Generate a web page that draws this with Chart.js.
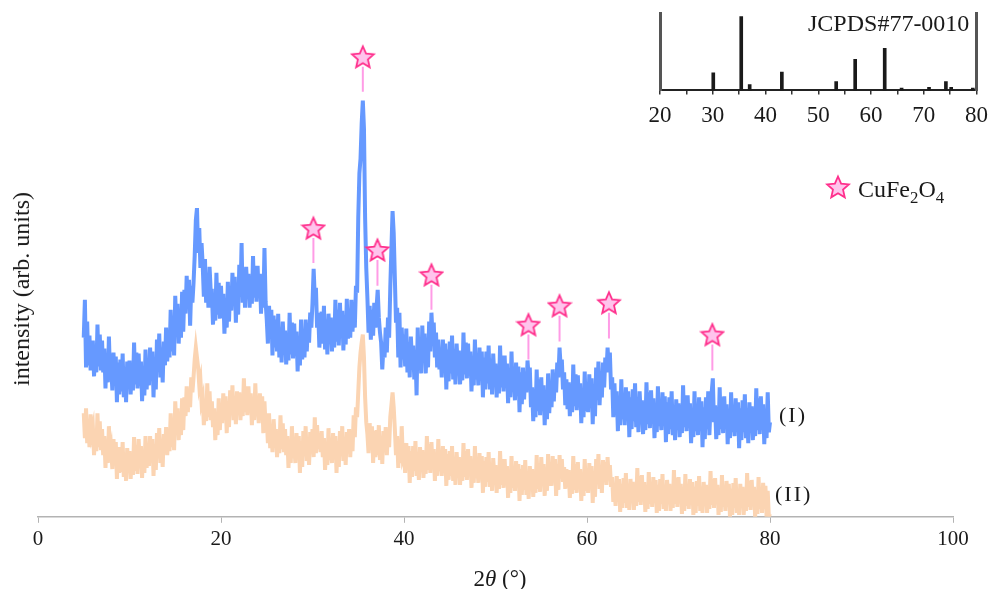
<!DOCTYPE html>
<html>
<head>
<meta charset="utf-8">
<script src="https://cdn.jsdelivr.net/npm/chart.js@4.4.1/dist/chart.umd.min.js"></script>
<style>
  html, body { margin: 0; padding: 0; background: #fff; }
  #wrap { position: relative; width: 996px; height: 589px; font-family: "Liberation Serif", "DejaVu Serif", serif; color: #1a1a1a; }
  #main { position: absolute; left: 0; top: 0; }
  #inset { position: absolute; left: 640px; top: 0; }
  .lbl { position: absolute; line-height: 1; white-space: nowrap; }
  .lbl sub { font-size: 70%; vertical-align: -0.35em; line-height: 0; }
  .ytitle { left: 21px; top: 289px; font-size: 24px; transform: translate(-50%, -50%) rotate(-90deg); }
  .xtitle { left: 500px; top: 578px; font-size: 23px; transform: translate(-50%, -50%); }
</style>
</head>
<body>
<div id="wrap">
  <canvas id="main" width="996" height="589"></canvas>
  <canvas id="inset" width="356" height="145"></canvas>
  <div class="lbl" style="left:808px; top:11px; font-size:24px;">JCPDS#77-0010</div>
  <div class="lbl" id="legendStar" style="left:825px; top:174px;"></div>
  <div class="lbl" style="left:858px; top:177px; font-size:24px;">CuFe<sub>2</sub>O<sub>4</sub></div>
  <div class="lbl" style="left:779px; top:404px; font-size:22px; letter-spacing:2px;">(I)</div>
  <div class="lbl" style="left:775px; top:483px; font-size:22px; letter-spacing:2px;">(II)</div>
  <div class="lbl ytitle">intensity (arb. units)</div>
  <div class="lbl xtitle">2<i>θ</i> (°)</div>
</div>
<script>
const SERIF = '"Liberation Serif", "DejaVu Serif", serif';

// 2θ grid of the scan: 5° to 80° every 0.125°
const angleStart = 5;
const angleStep = 0.125;

// curve (I), one row = one degree (8 samples)
const seriesI = [
  180, 218, 150, 196, 152, 182, 147, 175,   // 5
  175, 141, 169, 145, 193, 151, 183, 147,
  177, 145, 169, 129, 163, 135, 181, 141,
  151, 127, 165, 133, 161, 115, 155, 123,
  158, 126, 164, 120, 150, 115, 156, 132,
  157, 123, 151, 127, 175, 133, 165, 129,   // 10
  164, 132, 156, 116, 150, 122, 168, 128,
  156, 132, 170, 138, 166, 120, 160, 128,
  178, 146, 184, 140, 170, 135, 176, 152,
  190, 156, 184, 160, 208, 166, 198, 162,
  222, 190, 214, 174, 208, 180, 226, 186,   // 15
  228, 204, 242, 210, 238, 192, 232, 215,
  235, 262, 298, 310, 265, 290, 250, 275,
  253, 221, 259, 215, 245, 210, 251, 227,
  227, 193, 221, 197, 245, 203, 235, 199,
  232, 200, 224, 184, 218, 190, 236, 196,   // 20
  231, 207, 245, 213, 241, 195, 235, 203,
  253, 221, 275, 215, 245, 210, 251, 227,
  244, 210, 238, 214, 262, 220, 252, 216,
  252, 220, 244, 204, 238, 210, 270, 216,
  198, 174, 212, 180, 208, 162, 202, 170,   // 25
  198, 166, 204, 160, 190, 155, 196, 172,
  187, 153, 181, 157, 205, 163, 195, 159,
  194, 162, 186, 146, 180, 152, 198, 158,
  184, 160, 198, 166, 194, 175, 205, 190,
  215, 249, 220, 230, 190, 205, 170, 192,   // 30
  206, 174, 212, 168, 198, 163, 204, 180,
  200, 166, 194, 170, 218, 176, 208, 172,
  215, 183, 207, 167, 201, 173, 219, 179,
  204, 180, 218, 186, 214, 190, 232, 225,
  300, 345, 360, 395, 418, 390, 300, 250,   // 35
  220, 185, 212, 178, 208, 182, 215, 190,
  210, 228, 200, 185, 175, 148, 170, 160,
  190, 165, 200, 180, 230, 270, 307, 285,
  240, 195, 210, 160, 205, 150, 190, 158,
  183, 151, 189, 145, 175, 140, 181, 157,   // 40
  172, 138, 166, 122, 190, 148, 180, 144,
  192, 160, 184, 144, 178, 150, 196, 166,
  205, 180, 195, 160, 185, 150, 178, 148,
  164, 140, 178, 146, 174, 128, 168, 136,
  176, 144, 182, 138, 168, 133, 174, 150,   // 45
  167, 133, 161, 137, 185, 143, 175, 139,
  174, 142, 166, 126, 160, 132, 178, 138,
  156, 132, 170, 138, 166, 120, 160, 128,
  166, 134, 172, 128, 158, 123, 164, 140,
  154, 120, 148, 124, 172, 130, 162, 126,   // 50
  162, 130, 154, 114, 148, 120, 166, 126,
  141, 117, 155, 123, 151, 105, 145, 113,
  150, 118, 145, 125, 157, 140, 150, 110,
  130,  96, 124, 100, 148, 106, 138, 102,
  140, 108, 132,  92, 126,  98, 144, 104,   // 55
  134, 110, 148, 116, 144, 125, 155, 140,
  170, 150, 158, 128, 145, 112, 138, 108,
  135, 101, 129, 105, 153, 111, 143, 107,
  142, 110, 134,  94, 128, 100, 146, 106,
  129, 105, 143, 111, 139,  93, 133, 101,   // 60
  150, 118, 156, 112, 142, 120, 155, 130,
  160, 145, 170, 150, 165, 128, 140, 100,
  134, 102, 126,  86, 120,  92, 138,  98,
  116,  92, 130,  98, 126,  80, 120,  88,
  128,  96, 134,  90, 120,  85, 126, 102,   // 65
  117,  83, 111,  87, 135,  93, 125,  89,
  127,  95, 119,  79, 113,  85, 131,  91,
  111,  87, 125,  93, 121,  75, 115,  83,
  120,  88, 126,  82, 112,  77, 118,  94,
  114,  80, 108,  84, 132,  90, 122,  86,   // 70
  122,  90, 114,  74, 108,  80, 126,  86,
  106,  82, 120,  88, 116,  70, 110,  78,
  120,  88, 126,  82, 112, 125, 139,  95,
  112,  78, 106,  82, 130,  88, 120,  84,
  121,  89, 113,  73, 107,  79, 125,  85,   // 75
  105,  81, 119,  87, 115,  69, 109,  77,
  117,  85, 123,  79, 109,  74, 115,  91,
  111,  77, 105,  81, 129,  87, 119,  83,
  121,  89, 113,  73, 107,  79, 125,  85,
   95                                       // 80
];

// curve (II)
const seriesII = [
  104,  79, 109,  74,  98,  70, 103,  84,   // 5
   90,  62,  85,  66, 104,  70,  96,  67,
   88,  62,  81,  49,  76,  54,  91,  59,
   67,  48,  78,  52,  75,  38,  70,  44,
   70,  45,  75,  40,  64,  36,  69,  50,
   66,  38,  61,  42,  80,  46,  72,  43,   // 10
   78,  52,  71,  39,  66,  44,  81,  49,
   70,  51,  81,  55,  78,  41,  73,  47,
   84,  59,  89,  54,  78,  50,  83,  64,
   90,  62,  85,  66, 104,  70,  96,  67,
  116,  90, 109,  77, 104,  82, 119,  87,   // 15
  120, 101, 131, 105, 128, 110, 140, 125,
  140, 158, 170, 160, 150, 132, 138, 115,
  120,  92, 115,  96, 134, 100, 126,  97,
  116,  90, 109,  77, 104,  82, 119,  87,
  113,  94, 124,  98, 121,  84, 116,  90,   // 20
  127, 102, 132,  97, 121,  93, 126, 107,
  125,  97, 120, 101, 139, 105, 131, 102,
  131, 105, 124,  92, 119,  97, 134, 102,
  113,  94, 124,  98, 121,  84, 116,  90,
   99,  74, 104,  69,  93,  65,  98,  79,   // 25
   88,  60,  83,  64, 102,  68,  94,  65,
   88,  62,  81,  49,  76,  54,  91,  59,
   73,  54,  84,  58,  81,  44,  76,  50,
   86,  61,  91,  56,  80,  52,  85,  66,
   88,  60, 100,  64,  92,  68,  84,  65,   // 30
   86,  60,  79,  47,  74,  52,  89,  57,
   73,  54,  84,  58,  81,  44,  76,  50,
   86,  61,  91,  56,  80,  52,  85,  66,
   88,  60,  83,  66, 102,  80, 110, 100,
  125, 150, 165, 175, 183, 160, 120,  95,   // 35
   83,  64,  94,  68,  91,  54,  86,  60,
   87,  62,  92,  57,  81,  53,  86,  67,
   90,  62,  85,  70, 100, 112, 125, 110,
   88,  62,  81,  49,  76,  54,  91,  59,
   63,  44,  74,  48,  71,  34,  66,  40,   // 40
   71,  46,  76,  41,  65,  37,  70,  51,
   67,  39,  62,  43,  81,  47,  73,  44,
   75,  49,  68,  36,  63,  41,  78,  46,
   60,  41,  71,  45,  68,  31,  63,  37,
   66,  41,  71,  36,  60,  32,  65,  46,   // 45
   60,  32,  55,  36,  74,  40,  66,  37,
   68,  42,  61,  29,  56,  34,  71,  39,
   53,  34,  64,  38,  61,  24,  56,  30,
   60,  35,  65,  30,  54,  26,  59,  40,
   52,  24,  47,  28,  66,  32,  58,  29,   // 50
   58,  32,  51,  19,  46,  24,  61,  29,
   45,  26,  56,  30,  53,  16,  48,  22,
   52,  27,  57,  22,  46,  18,  51,  32,
   48,  20,  43,  24,  62,  28,  54,  25,
   60,  34,  53,  21,  48,  26,  63,  31,   // 55
   50,  31,  61,  35,  58,  21,  53,  27,
   62,  40,  58,  35,  50,  28,  48,  30,
   47,  19,  42,  23,  61,  27,  53,  24,
   55,  29,  48,  16,  43,  21,  58,  26,
   43,  24,  54,  28,  51,  14,  46,  20,   // 60
   58,  33,  63,  28,  52,  24,  57,  38,
   55,  32,  60,  38,  52,  30,  40,  15,
   30,  11,  41,  15,  38,   5,  33,   9,
   39,  14,  44,   9,  33,   7,  38,  19,
   35,   7,  30,  11,  49,  15,  41,  12,   // 65
   42,  16,  35,   5,  30,   8,  45,  13,
   29,  10,  40,  14,  37,   4,  32,   6,
   38,  13,  43,   8,  32,   6,  37,  18,
   33,   6,  28,   9,  47,  13,  39,  10,
   40,  14,  33,   3,  28,   6,  43,  11,   // 70
   27,   8,  38,  12,  35,   2,  30,   4,
   36,  11,  41,   6,  30,   4,  35,  16,
   32,   4,  27,   8,  46,  12,  38,   9,
   39,  13,  32,   2,  27,   5,  42,  10,
   25,   6,  36,  10,  33,   0,  28,   2,   // 75
   34,   9,  39,   4,  28,   2,  33,  14,
   30,   2,  25,   6,  44,  10,  36,   7,
   37,  11,  30,   0,  25,   3,  40,   8,
   23,   4,  34,   8,  31,   0,  26,   0,
    3                                       // 80
];

// CuFe2O4 markers: peak position, star height, stem top / bottom
const starAngles  = [30.1, 35.5, 37.1, 43.0, 53.6, 57.0, 62.4, 73.7];
const starLevels  = [290, 462, 268, 243, 193, 212, 215, 183];
const stemTops    = [280, 452, 258, 233, 183, 202, 205, 173];
const stemBottoms = [255, 427, 232, 208, 158, 176, 179, 147];

// JCPDS#77-0010 reference lines (inset)
const refAngles  = [30.1, 35.4, 37.0, 43.1, 53.4, 57.0, 62.6, 65.8, 71.0, 74.2, 75.2, 79.3];
const refHeights = [  24,  100,    8,   25,   12,   42,   57,    3,    4,   12,    4,    3];

const angles = seriesI.map((_, i) => angleStart + i * angleStep);

function makeStar(size) {
    const c = document.createElement('canvas');
    c.width = size; c.height = size;
    const g = c.getContext('2d');
    const cx = size / 2, cy = size / 2 + 1, R = size / 2 - 1.5, r = R * 0.46;
    g.beginPath();
    for (let i = 0; i < 10; i++) {
        const rad = i % 2 ? r : R;
        const a = -Math.PI / 2 + i * Math.PI / 5;
        g.lineTo(cx + rad * Math.cos(a), cy + rad * Math.sin(a));
    }
    g.closePath();
    g.fillStyle = '#ffc4ec';
    g.fill();
    g.lineWidth = 1.8;
    g.strokeStyle = '#ff2f8c';
    g.stroke();
    return c;
}

const starImg = makeStar(26);
document.getElementById('legendStar').appendChild(makeStar(26));

// stems as one line dataset, broken by gaps
const stemData = [];
starAngles.forEach((a, i) => {
    stemData.push({ x: a, y: stemTops[i] }, { x: a, y: stemBottoms[i] }, { x: a, y: null });
});

new Chart(document.getElementById('main'), {
    type: 'line',
    data: {
        datasets: [
            {
                data: starAngles.map((a, i) => ({ x: a, y: starLevels[i] })),
                showLine: false,
                pointStyle: starImg,
                pointRadius: 13,
                order: 0
            },
            {
                data: stemData,
                borderColor: '#ff9ce6',
                borderWidth: 2,
                pointRadius: 0,
                spanGaps: false,
                order: 1
            },
            {
                label: '(I)',
                data: angles.map((a, i) => ({ x: a, y: seriesI[i] })),
                borderColor: '#6699ff',
                borderWidth: 4,
                pointRadius: 0,
                tension: 0,
                order: 2
            },
            {
                label: '(II)',
                data: angles.map((a, i) => ({ x: a, y: seriesII[i] })),
                borderColor: '#fbd4b2',
                borderWidth: 4,
                pointRadius: 0,
                tension: 0,
                order: 3
            }
        ]
    },
    options: {
        responsive: false,
        animation: false,
        layout: { padding: { left: 38, right: 43, top: 10, bottom: 33 } },
        plugins: { legend: { display: false }, tooltip: { enabled: false } },
        scales: {
            x: {
                type: 'linear', min: 0, max: 100,
                ticks: { stepSize: 20, color: '#1a1a1a', font: { family: SERIF, size: 21 }, padding: 4 },
                grid: { drawOnChartArea: false, drawTicks: true, tickLength: 6, color: '#b3b3b3' },
                border: { color: '#b3b3b3', width: 1.5 }
            },
            y: { display: false, min: 0, max: 505 }
        }
    }
});

new Chart(document.getElementById('inset'), {
    type: 'bar',
    data: {
        datasets: [{
            data: refAngles.map((a, i) => ({ x: a, y: refHeights[i] })),
            backgroundColor: '#1a1a1a',
            barThickness: 3
        }]
    },
    options: {
        responsive: false,
        animation: false,
        layout: { padding: { left: 12, right: 0, top: 13, bottom: 7 } },
        plugins: { legend: { display: false }, tooltip: { enabled: false } },
        scales: {
            x: {
                type: 'linear', min: 20, max: 80, offset: false,
                ticks: { stepSize: 5, autoSkip: false, maxRotation: 0, color: '#1a1a1a', font: { family: SERIF, size: 23 }, padding: 8,
                         callback: v => (v % 10 === 0 ? v : '') },
                grid: { offset: false, drawOnChartArea: false, tickLength: 4, color: '#333', lineWidth: 1.5 },
                border: { color: '#222', width: 2 }
            },
            y: {
                min: 0, max: 105,
                ticks: { display: false }, grid: { display: false },
                border: { color: '#555', width: 3 }
            },
            y2: {
                display: true, position: 'right', min: 0, max: 105,
                ticks: { display: false }, grid: { display: false },
                border: { color: '#555', width: 3 }
            }
        }
    }
});
</script>
</body>
</html>
